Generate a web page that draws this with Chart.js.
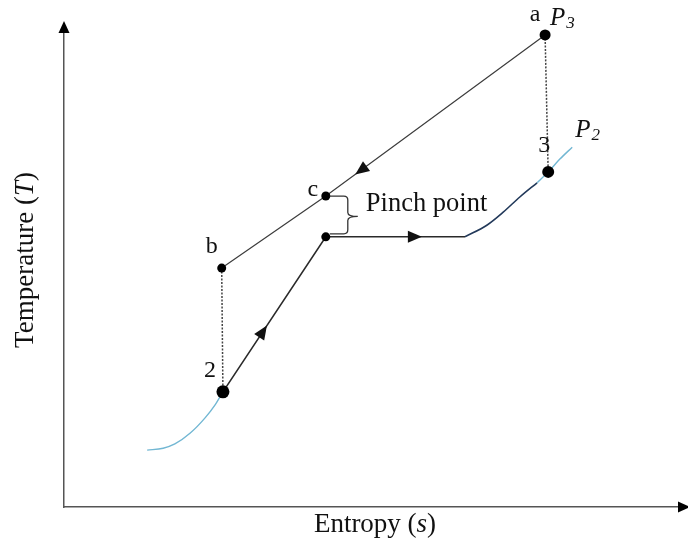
<!DOCTYPE html>
<html>
<head>
<meta charset="utf-8">
<script src="https://cdn.jsdelivr.net/npm/chart.js@4.4.1/dist/chart.umd.min.js"></script>
<style>
  html, body { margin: 0; padding: 0; background: #fff; }
  #wrap { width: 688px; height: 543px; }
</style>
</head>
<body>
<div id="wrap"><canvas id="tsChart"></canvas></div>
<script>
// state points (entropy s, temperature T), arbitrary units 0..100
const stateNames = ['a', 'c', 'pinch', 'b', '2', '3'];
const stateS = [78.1, 42.5, 42.5, 25.6, 25.8, 78.6];
const stateT = [99.6, 65.6, 57.0, 50.4, 24.3, 70.7];

// heat source stream a -> c -> b
const hotS = [78.1, 42.5, 25.6];
const hotT = [99.6, 65.6, 50.4];

// working fluid: 2 -> pinch -> end of evaporation
const fluidS = [25.8, 42.5, 65.1];
const fluidT = [24.3, 57.0, 57.0];

// superheating part of P2 isobar
const superS = [65.1, 68.7, 71.3, 74.0, 76.8];
const superT = [57.0, 59.5, 62.2, 65.4, 68.4];

// P2 isobar beyond the superheat, through 3
const p2UpS = [76.8, 78.6, 80.5, 82.5];
const p2UpT = [68.4, 70.7, 73.4, 75.9];

// P2 isobar below state 2
const p2LowS = [13.5, 16.1, 18.0, 20.5, 22.9, 24.5, 25.8];
const p2LowT = [12.0, 12.4, 13.3, 15.6, 18.8, 21.5, 24.3];

const pts = (xs, ys) => xs.map((s, i) => ({ x: s, y: ys[i] }));
const st = name => {
    const i = stateNames.indexOf(name);
    return { x: stateS[i], y: stateT[i] };
};

const SERIF = '"Liberation Serif", "Times New Roman", serif';

// flow direction arrows: [from, to, fraction along segment]
const flowArrows = [
    ['a', 'c', 0.84],
    ['2', 'pinch', 0.39],
    ['pinch', { x: fluidS[2], y: fluidT[2] }, 0.64]
];

// point labels, offset in px from the state point
const pointLabels = [
    { at: 'a', text: 'a', dx: -10, dy: -20 },
    { at: 'c', text: 'c', dx: -13, dy: -6 },
    { at: 'b', text: 'b', dx: -10, dy: -21 },
    { at: '2', text: '2', dx: -13, dy: -21 },
    { at: '3', text: '3', dx: -4, dy: -26 }
];

function drawTri(ctx, x, y, ang, len, half) {
    ctx.save();
    ctx.translate(x, y);
    ctx.rotate(ang);
    ctx.beginPath();
    ctx.moveTo(len / 2, 0);
    ctx.lineTo(-len / 2, -half);
    ctx.lineTo(-len / 2, half);
    ctx.closePath();
    ctx.fill();
    ctx.restore();
}

function drawPressure(ctx, x, y, sub) {
    ctx.font = 'italic 25px ' + SERIF;
    ctx.textAlign = 'left';
    ctx.textBaseline = 'middle';
    ctx.fillText('P', x, y);
    const w = ctx.measureText('P').width;
    ctx.font = 'italic 17px ' + SERIF;
    ctx.fillText(sub, x + w + 1, y + 5);
}

const diagramExtras = {
    id: 'diagramExtras',
    afterDatasetsDraw(chart) {
        const { ctx, chartArea, scales: { x, y } } = chart;
        const px = p => ({ x: x.getPixelForValue(p.x), y: y.getPixelForValue(p.y) });
        const ref = r => (typeof r === 'string' ? st(r) : r);
        ctx.save();
        ctx.fillStyle = '#111';

        // arrows along the process lines
        flowArrows.forEach(([f, t, frac]) => {
            const p0 = px(ref(f)), p1 = px(ref(t));
            const cx = p0.x + (p1.x - p0.x) * frac;
            const cy = p0.y + (p1.y - p0.y) * frac;
            drawTri(ctx, cx, cy, Math.atan2(p1.y - p0.y, p1.x - p0.x), 14, 6);
        });

        // axis arrow heads
        ctx.fillStyle = '#000';
        drawTri(ctx, chartArea.left, chartArea.top - 6, -Math.PI / 2, 12, 5.5);
        drawTri(ctx, chartArea.right + 4, chartArea.bottom, 0, 12, 5.5);

        // brace marking the pinch
        const pc = px(st('c')), pp = px(st('pinch'));
        const bx = pc.x + 22, mid = (pc.y + pp.y) / 2;
        ctx.strokeStyle = '#333';
        ctx.lineWidth = 1.3;
        ctx.beginPath();
        ctx.moveTo(pc.x + 4, pc.y);
        ctx.lineTo(bx - 4, pc.y);
        ctx.quadraticCurveTo(bx, pc.y, bx, pc.y + 4);
        ctx.lineTo(bx, mid - 4);
        ctx.quadraticCurveTo(bx, mid, bx + 10, mid);
        ctx.quadraticCurveTo(bx, mid, bx, mid + 4);
        ctx.lineTo(bx, pp.y - 7);
        ctx.quadraticCurveTo(bx, pp.y - 3, bx - 4, pp.y - 3);
        ctx.lineTo(pp.x + 4, pp.y - 3);
        ctx.stroke();

        // text labels
        ctx.fillStyle = '#111';
        ctx.font = '24px ' + SERIF;
        ctx.textAlign = 'center';
        ctx.textBaseline = 'middle';
        pointLabels.forEach(l => {
            const p = px(st(l.at));
            ctx.fillText(l.text, p.x + l.dx, p.y + l.dy);
        });
        ctx.font = '26.5px ' + SERIF;
        ctx.textAlign = 'left';
        ctx.textBaseline = 'alphabetic';
        ctx.fillText('Pinch point', pc.x + 40, pc.y + 15);

        const pa = px(st('a'));
        drawPressure(ctx, pa.x + 5, pa.y - 16, '3');
        const p2 = px({ x: p2UpS[3], y: p2UpT[3] });
        drawPressure(ctx, p2.x + 3, p2.y - 17, '2');

        // axis titles with italic symbols
        const title = (parts, cx, cy) => {
            let w = 0;
            parts.forEach(([t, it]) => {
                ctx.font = (it ? 'italic ' : '') + '27px ' + SERIF;
                w += ctx.measureText(t).width;
            });
            let xx = cx - w / 2;
            parts.forEach(([t, it]) => {
                ctx.font = (it ? 'italic ' : '') + '27px ' + SERIF;
                ctx.fillText(t, xx, cy);
                xx += ctx.measureText(t).width;
            });
        };
        ctx.textBaseline = 'middle';
        title([['Entropy (', false], ['s', true], [')', false]], (chartArea.left + chartArea.right) / 2 + 3, chartArea.bottom + 18);
        ctx.save();
        ctx.translate(26, (chartArea.top + chartArea.bottom) / 2 - 10);
        ctx.rotate(-Math.PI / 2);
        title([['Temperature (', false], ['T', true], [')', false]], 0, 0);
        ctx.restore();

        ctx.restore();
    }
};

const lineDs = (data, color, width, extra) => Object.assign({
    data, showLine: true, borderColor: color, borderWidth: width,
    pointRadius: 0, fill: false, clip: false
}, extra || {});

new Chart(document.getElementById('tsChart'), {
    type: 'scatter',
    data: {
        datasets: [
            {
                data: pts(stateS, stateT),
                backgroundColor: '#000',
                borderWidth: 0,
                pointRadius: [5.5, 4.5, 4.5, 4.5, 6.5, 6],
                showLine: false,
                clip: false
            },
            lineDs(pts(hotS, hotT), '#3c3c3c', 1.2),
            lineDs(pts(fluidS, fluidT), '#2a2a2a', 1.6),
            lineDs(pts(superS, superT), '#22395a', 1.6, { cubicInterpolationMode: 'monotone' }),
            lineDs(pts(p2UpS, p2UpT), '#72b7d3', 1.4, { cubicInterpolationMode: 'monotone' }),
            lineDs(pts(p2LowS, p2LowT), '#72b7d3', 1.4, { cubicInterpolationMode: 'monotone' }),
            lineDs([st('a'), st('3')], '#444', 1.5, { borderDash: [2, 1.5] }),
            lineDs([st('b'), st('2')], '#444', 1.5, { borderDash: [2, 1.5] })
        ]
    },
    options: {
        responsive: true,
        maintainAspectRatio: false,
        animation: false,
        layout: { padding: { left: 64, right: 8, top: 33, bottom: 36 } },
        plugins: { legend: { display: false }, tooltip: { enabled: false } },
        scales: {
            x: {
                type: 'linear', min: 0, max: 100,
                ticks: { display: false },
                grid: { display: false, drawTicks: false },
                border: { display: true, color: '#555', width: 1.5 }
            },
            y: {
                type: 'linear', min: 0, max: 100,
                ticks: { display: false },
                grid: { display: false, drawTicks: false },
                border: { display: true, color: '#555', width: 1.5 }
            }
        }
    },
    plugins: [diagramExtras]
});
</script>
</body>
</html>
